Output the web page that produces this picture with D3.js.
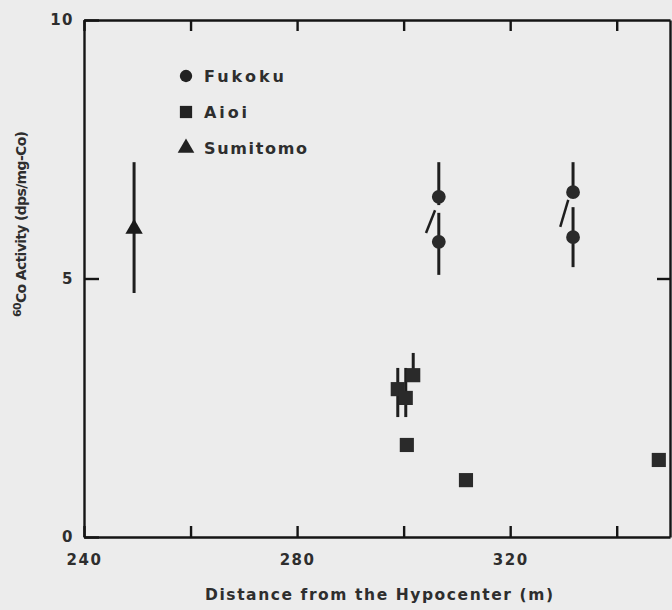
<html>
<title>60Co Activity vs Distance</title>
<script src="https://d3js.org/d3.v7.min.js"></script>
<style>
body { margin:0; background:#ececec; }
text { font-family: "DejaVu Sans", Arial, sans-serif; fill:#2e2e2e; }
</style>
<body>
<div id="chart"></div>
<script>
// site data: distance (m), activity (dps/mg-Co), error bar low/high
var fukokuX = [306.6, 306.6, 331.8, 331.8];
var fukokuY = [6.58, 5.71, 6.67, 5.80];
var fukokuLo = [6.42, 5.07, 6.60, 5.22];
var fukokuHi = [7.25, 6.27, 7.25, 6.38];

var aioiX = [298.9, 300.4, 301.8, 300.6, 311.7, 347.9];
var aioiY = [2.86, 2.69, 3.13, 1.78, 1.10, 1.49];
var aioiLo = [2.32, 2.32, 3.13, null, null, null];
var aioiHi = [3.27, 3.27, 3.56, null, null, null];

var sumitomoX = [249.4];
var sumitomoY = [5.96];
var sumitomoLo = [4.72];
var sumitomoHi = [7.25];

// short slanted links next to the Fukoku pairs
var linkX1 = [304.2, 329.4], linkY1 = [5.88, 6.00];
var linkX2 = [305.9, 330.9], linkY2 = [6.32, 6.52];

var xTicks = [240, 260, 280, 300, 320, 340];
var xLabels = [240, 280, 320];
var yTicks = [0, 5, 10];

var width = 672, height = 610;
var svg = d3.select("#chart").append("svg")
    .attr("width", width).attr("height", height);

var x = d3.scaleLinear().domain([240, 350]).range([84, 670]);
var y = d3.scaleLinear().domain([0, 10]).range([537, 20]);

function styleAxis(g) {
    g.selectAll("path,line").attr("stroke", "#151515").attr("stroke-width", 2.4);
    g.selectAll("text").style("font-size", "15px").style("letter-spacing", "1.5px")
        .style("font-weight", "bold")
        .attr("fill", "#2e2e2e").attr("font-family", "DejaVu Sans, Arial, sans-serif");
}

svg.append("g").attr("transform", "translate(0,537)")
    .call(d3.axisBottom(x).tickValues(xTicks).tickSizeInner(-11).tickSizeOuter(0).tickPadding(17)
        .tickFormat(function(d) { return xLabels.indexOf(d) >= 0 ? d : ""; }))
    .call(styleAxis);
svg.append("g").attr("transform", "translate(0,20)")
    .call(d3.axisTop(x).tickValues(xTicks).tickSizeInner(-11).tickSizeOuter(0).tickFormat(""))
    .call(styleAxis);
svg.append("g").attr("transform", "translate(84,0)")
    .call(d3.axisLeft(y).tickValues(yTicks).tickSizeInner(-15).tickSizeOuter(0).tickPadding(10))
    .call(styleAxis);
svg.append("g").attr("transform", "translate(670,0)")
    .call(d3.axisRight(y).tickValues([5]).tickSizeInner(-13).tickSizeOuter(0).tickFormat(""))
    .call(styleAxis);
svg.selectAll(".domain").attr("fill", "none");

var marks = svg.append("g");
var ink = "#1e1e1e";

function errBars(xs, lo, hi) {
    xs.forEach(function(v, i) {
        if (lo[i] == null) return;
        marks.append("line")
            .attr("x1", x(v)).attr("x2", x(v))
            .attr("y1", y(lo[i])).attr("y2", y(hi[i]))
            .attr("stroke", ink).attr("stroke-width", 3);
    });
}
errBars(fukokuX, fukokuLo, fukokuHi);
errBars(aioiX, aioiLo, aioiHi);
errBars(sumitomoX, sumitomoLo, sumitomoHi);

linkX1.forEach(function(v, i) {
    marks.append("line")
        .attr("x1", x(v)).attr("y1", y(linkY1[i]))
        .attr("x2", x(linkX2[i])).attr("y2", y(linkY2[i]))
        .attr("stroke", ink).attr("stroke-width", 2.5);
});

var circle = d3.symbol().type(d3.symbolCircle).size(150);
var square = d3.symbol().type(d3.symbolSquare).size(200);
var triangle = d3.symbol().type(d3.symbolTriangle).size(130);

fukokuX.forEach(function(v, i) {
    marks.append("path").attr("d", circle)
        .attr("transform", "translate(" + x(v) + "," + y(fukokuY[i]) + ")")
        .attr("fill", "#2a2a2a");
});
aioiX.forEach(function(v, i) {
    marks.append("path").attr("d", square)
        .attr("transform", "translate(" + x(v) + "," + y(aioiY[i]) + ")")
        .attr("fill", "#2a2a2a");
});
sumitomoX.forEach(function(v, i) {
    marks.append("path").attr("d", triangle)
        .attr("transform", "translate(" + x(v) + "," + y(sumitomoY[i]) + ")")
        .attr("fill", "#1a1a1a");
});

// legend
var legendNames = ["Fukoku", "Aioi", "Sumitomo"];
var legendSymbols = [circle, square, triangle];
var legendWidths = [80, 43, 103];
var legend = svg.append("g").attr("transform", "translate(186,0)");
legendNames.forEach(function(name, i) {
    var ly = 76 + i * 36;
    legend.append("path").attr("d", legendSymbols[i].size(i == 1 ? 150 : 120))
        .attr("transform", "translate(0," + ly + ")").attr("fill", "#222");
    legend.append("text").attr("x", 18).attr("y", ly + 6)
        .attr("textLength", legendWidths[i]).attr("lengthAdjust", "spacing")
        .style("font-size", "16px").style("font-weight", "bold")
        .text(name);
});

// axis titles
svg.append("text")
    .attr("x", 379).attr("y", 600)
    .attr("text-anchor", "middle")
    .attr("textLength", 348).attr("lengthAdjust", "spacing")
    .style("font-size", "15.5px").style("font-weight", "bold")
    .text("Distance from the Hypocenter (m)");

var yt = svg.append("text")
    .attr("transform", "translate(26,224) rotate(-90)")
    .attr("text-anchor", "middle")
    .attr("textLength", 186).attr("lengthAdjust", "spacing")
    .style("font-size", "14px").style("font-weight", "bold");
yt.append("tspan").attr("dy", "-5").style("font-size", "11px").text("60");
yt.append("tspan").attr("dy", "5").text("Co Activity (dps/mg-Co)");
</script>
</body>
</html>
